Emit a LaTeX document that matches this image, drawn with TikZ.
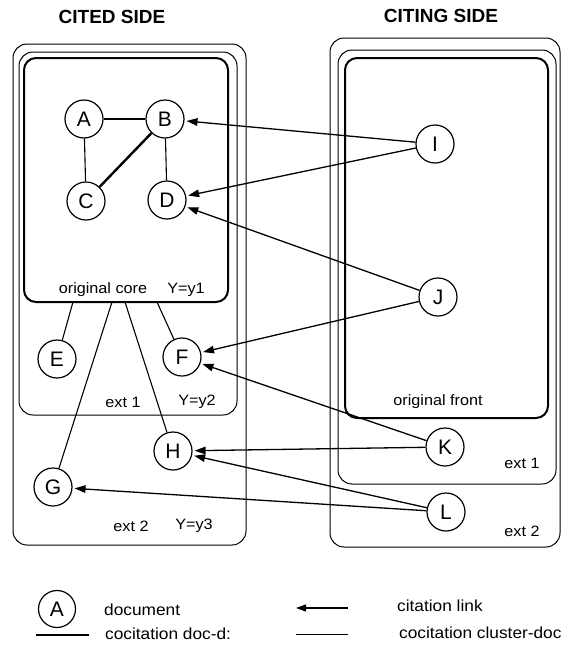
\documentclass[tikz,border=0pt]{standalone}
\usepackage{fontspec}
\setmainfont{Liberation Sans}
\newfontfamily\labfont[FakeStretch=1.08]{Liberation Sans}
\usetikzlibrary{arrows.meta}
\begin{document}
\begin{tikzpicture}[x=1pt,y=-1pt,
  doc/.style={circle,draw,line width=1.2pt,minimum size=38pt,inner sep=0pt,font=\fontsize{21}{21}\selectfont},
  legdoc/.style={doc,minimum size=37pt},
  box/.style={draw,line width=1pt,rounded corners=14pt},
  corebox/.style={draw,line width=2pt,rounded corners=12pt},
  cite/.style={line width=1.3pt,-{Triangle[length=11pt,width=7.5pt]},shorten >=2pt},
  dd/.style={line width=2.4pt},
  ddm/.style={line width=1.7pt},
  cd/.style={line width=1.1pt},
  lab/.style={font=\labfont\fontsize{15}{15}\selectfont,inner sep=0pt},
  leg/.style={font=\labfont\fontsize{16}{16}\selectfont,inner sep=0pt,anchor=west},
  ttl/.style={font=\bfseries\fontsize{19}{19}\selectfont,inner sep=0pt}]
\useasboundingbox (0,0) rectangle (562,646);
% titles
\node[ttl] (t1) at (112,17) {CITED SIDE};
\node[ttl] (t2) at (441,16) {CITING SIDE};
% left boxes
\draw[box] (13,44) rectangle (246,545);
\draw[box] (19,52) rectangle (237,415);
\draw[corebox] (24,58) rectangle (228,302);
% right boxes
\draw[box] (330,38) rectangle (560,547);
\draw[box] (338,50) rectangle (556,484);
\draw[corebox] (345,58) rectangle (548,418);
% labels
\node[lab] (l1) at (103,290) {original core};
\node[lab] (l2) at (186,290) {Y=y1};
\node[lab] (l3) at (123,402) {ext 1};
\node[lab] (l4) at (197,402) {Y=y2};
\node[lab] (l5) at (131,526) {ext 2};
\node[lab] (l6) at (194,526) {Y=y3};
\node[lab] (l7) at (438,402) {original front};
\node[lab] (l8) at (522,463) {ext 1};
\node[lab] (l9) at (522,531) {ext 2};
% documents
\node[doc] (A) at (84,119) {A};
\node[doc] (B) at (165,119) {B};
\node[doc] (C) at (86,201) {C};
\node[doc] (D) at (167,200) {D};
\node[doc] (E) at (57,359) {E};
\node[doc] (F) at (182,357) {F};
\node[doc] (G) at (53,487) {G};
\node[doc] (H) at (173,451) {H};
\node[doc] (I) at (435,144) {I};
\node[doc] (J) at (438,297) {J};
\node[doc] (K) at (445,447) {K};
\node[doc] (L) at (446,512) {L};
% cocitation doc-doc
\draw[ddm] (A) -- (B);
\draw[dd] (B) -- (C);
\draw[cd] (A) -- (C);
\draw[cd] (B) -- (D);
% cocitation cluster-doc
\coordinate (e0) at (73,302);
\coordinate (g0) at (112,302);
\coordinate (h0) at (125,302);
\coordinate (f0) at (157,302);
\draw[cd] (e0) -- (E);
\draw[cd] (g0) -- (G);
\draw[cd] (h0) -- (H);
\draw[cd] (f0) -- (F);
% citation links
\draw[cite] (I) -- (B);
\draw[cite] (I) -- (D);
\draw[cite] (J) -- (D);
\draw[cite] (J) -- (F);
\draw[cite] (K) -- (F);
\draw[cite] (K) -- (H);
\draw[cite] (L) -- (H);
\draw[cite] (L) -- (G);
% legend
\node[legdoc] (LA) at (57,609) {A};
\node[leg] (ld) at (104,610) {document};
\coordinate (t1a) at (36,635);
\coordinate (t1b) at (89,635);
\draw[line width=2.6pt] (t1a) -- (t1b);
\node[leg] (ldd) at (105,634) {cocitation doc-d:};
\coordinate (c1a) at (348,608);
\coordinate (c1b) at (296,608);
\draw[line width=1.3pt,-{Triangle[length=10pt,width=7pt]}] (c1a) -- (c1b);
\node[leg] (lc) at (397,606) {citation link};
\coordinate (c2a) at (296,634);
\coordinate (c2b) at (348,634);
\draw[line width=1pt] (c2a) -- (c2b);
\node[leg] (lcd) at (399,633) {cocitation cluster-doc};
\end{tikzpicture}
\end{document}
